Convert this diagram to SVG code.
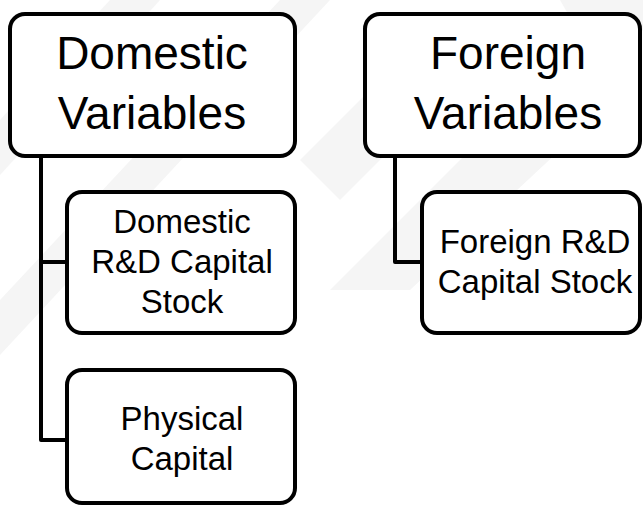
<svg xmlns="http://www.w3.org/2000/svg" width="643" height="506" viewBox="0 0 643 506">
<style>
.box{fill:#fff;stroke:#000;stroke-width:4}
.wm{fill:#f5f5f5}
.conn{fill:none;stroke:#000;stroke-width:4;stroke-linejoin:round}
text{font-family:"Liberation Sans",Arial,sans-serif;fill:#000;text-anchor:middle}
.big{font-size:46px}
.small{font-size:33px}
</style>
<rect width="643" height="506" fill="#fff"/>
<g id="watermark">
<polygon class="wm" points="0,120 110,0 160,0 0,175"/>
<polygon class="wm" points="0,300 280,0 330,0 0,355"/>
<polygon class="wm" points="300,160 380,80 420,120 340,200"/>
<polygon class="wm" points="330,290 470,150 560,150 410,290"/>
<polygon class="wm" points="560,0 643,0 643,30 600,70"/>
</g>
<g id="connectors">
<polyline class="conn" points="41,156 41,440 67,440"/>
<line class="conn" x1="41" y1="262" x2="67" y2="262"/>
<polyline class="conn" points="395,156 395,262 422,262"/>
</g>
<g id="domestic-variables">
<rect class="box" x="10" y="14" width="285" height="142" rx="15"/>
<text class="big" x="152" y="69">Domestic</text>
<text class="big" x="152" y="129">Variables</text>
</g>
<g id="foreign-variables">
<rect class="box" x="365" y="14" width="275" height="142" rx="15"/>
<text class="big" x="508" y="69">Foreign</text>
<text class="big" x="508" y="129">Variables</text>
</g>
<g id="domestic-rd">
<rect class="box" x="67" y="192" width="228" height="141" rx="15"/>
<text class="small" x="182" y="233">Domestic</text>
<text class="small" x="182" y="273">R&amp;D Capital</text>
<text class="small" x="182" y="313">Stock</text>
</g>
<g id="physical-capital">
<rect class="box" x="67" y="370" width="228" height="133" rx="15"/>
<text class="small" x="182" y="430">Physical</text>
<text class="small" x="182" y="470">Capital</text>
</g>
<g id="foreign-rd">
<rect class="box" x="422" y="192" width="218" height="141" rx="15"/>
<text class="small" x="535" y="253">Foreign R&amp;D</text>
<text class="small" x="535" y="293">Capital Stock</text>
</g>
</svg>
